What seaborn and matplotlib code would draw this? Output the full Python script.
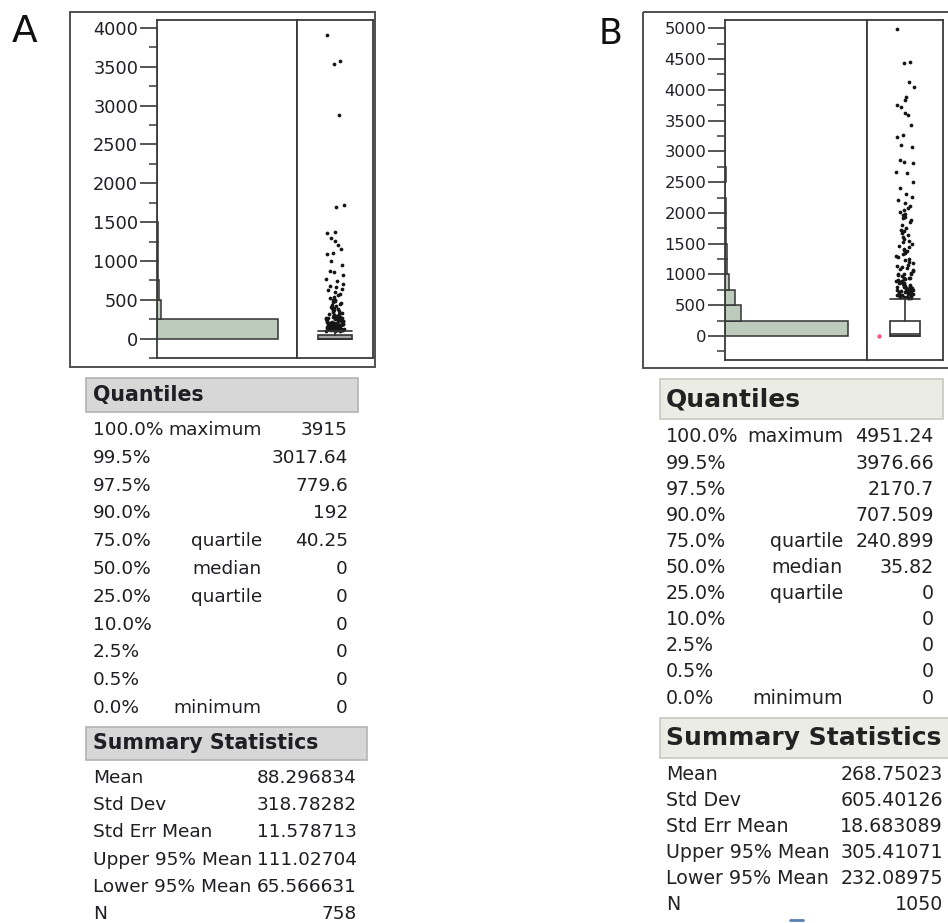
import numpy as np
import matplotlib
matplotlib.use("Agg")
import matplotlib.pyplot as plt
import matplotlib.patches as mpatches
import seaborn as sns

# ---- data ----

# histogram bins (width 250) and counts
a_edges = [0, 250, 500, 750, 1000, 1250, 1500, 1750, 2000, 2250, 2500, 2750, 3000, 3250, 3500, 3750, 4000]
a_counts = [702, 25, 12, 5, 5, 3, 2, 0, 0, 0, 0, 1, 0, 0, 2, 1]

b_edges = [0, 250, 500, 750, 1000, 1250, 1500, 1750, 2000, 2250, 2500, 2750, 3000,
           3250, 3500, 3750, 4000, 4250, 4500, 4750, 5000]
b_counts = [788, 103, 64, 26, 12, 10, 4, 8, 9, 3, 4, 3, 3, 2, 3, 3, 2, 2, 0, 1]

# points shown in the jittered strip (above the whisker)
a_points = [3915, 3580, 3530, 2880, 1716, 1690, 1376, 1363, 1300, 1257, 1206, 1150, 1108,
            1087, 1003, 950, 875, 854, 820, 768, 740, 704, 680, 662, 640, 620, 600, 577,
            560, 540, 520, 500, 492, 480, 470, 455, 440, 430, 420, 410, 400, 390, 380,
            372, 365, 350, 340, 330, 320, 312, 305, 298, 290, 282, 275, 268, 260, 255,
            248, 240, 232, 225, 218, 210, 205, 198, 192, 185, 180, 175, 170, 165, 160,
            155, 150, 145, 140, 136, 132, 128, 124, 120, 116, 112, 108, 104,
            300, 280, 260, 250, 240, 230, 220, 210, 200, 190, 180, 170, 160, 150, 140,
            130, 125, 120, 115, 110, 105, 102, 250, 200, 175, 150, 135, 118, 110, 106,
            190, 170, 155, 145, 138, 128, 122, 114, 108, 103, 160, 142, 126, 112]

b_points = [4984, 4459, 4432, 4133, 4041, 3890, 3836, 3754, 3727, 3620, 3592, 3429, 3267,
            3240, 3104, 3077, 2860, 2834, 2807, 2670, 2643, 2500, 2400, 2300, 2264, 2210,
            2156, 2120, 2075, 2040, 2021, 1990, 1967, 1940, 1912, 1886, 1860,
            1800, 1760, 1720, 1700, 1670, 1640, 1610, 1580, 1550, 1520, 1500, 1470, 1450,
            1420, 1400, 1380, 1350, 1330, 1300,
            1280, 1250, 1230, 1200, 1180, 1160, 1140, 1120, 1100, 1090, 1070, 1050, 1030,
            1010, 1000, 990, 970, 950, 940, 930, 910, 900, 890, 875, 860, 850, 840, 830,
            820, 810, 800, 790, 780, 770, 760, 750, 745, 740, 730, 720, 710, 700, 690,
            680, 670, 660, 650, 640, 630, 620, 615,
            950, 900, 860, 820, 790, 760, 730, 700, 680, 660, 640, 625, 1000, 880, 780, 720]
b_marked = [0]

# quantile table
q_pct = ["100.0%", "99.5%", "97.5%", "90.0%", "75.0%", "50.0%", "25.0%", "10.0%", "2.5%", "0.5%", "0.0%"]
q_name = ["maximum", "", "", "", "quartile", "median", "quartile", "", "", "", "minimum"]
a_quant = ["3915", "3017.64", "779.6", "192", "40.25", "0", "0", "0", "0", "0", "0"]
b_quant = ["4951.24", "3976.66", "2170.7", "707.509", "240.899", "35.82", "0", "0", "0", "0", "0"]
a_q = {"q1": 0, "med": 0, "q3": 40.25}
b_q = {"q1": 0, "med": 35.82, "q3": 240.899}

# summary statistics
s_name = ["Mean", "Std Dev", "Std Err Mean", "Upper 95% Mean", "Lower 95% Mean", "N"]
a_summ = ["88.296834", "318.78282", "11.578713", "111.02704", "65.566631", "758"]
b_summ = ["268.75023", "605.40126", "18.683089", "305.41071", "232.08975", "1050"]

# ---- figure ----
sns.set_style("white")
plt.rcParams["font.family"] = ["DejaVu Sans"]

W, H = 948, 923
fig = plt.figure(figsize=(W / 100, H / 100), dpi=100)


def box(x0, y0, x1, y1):
    return [x0 / W, 1 - y1 / H, (x1 - x0) / W, (y1 - y0) / H]


bg = fig.add_axes([0, 0, 1, 1], zorder=-5)
bg.set_xlim(0, W)
bg.set_ylim(H, 0)
bg.axis("off")

edge = "#3a3a3a"
bar_col = "#bccbbb"


def panel(hist_box, strip_box, edges, counts, points, q, ylim, ymax_tick, hist_xmax, lab_size,
          box_w, box_face):
    axh = fig.add_axes(box(*hist_box))
    axs = fig.add_axes(box(*strip_box), sharey=axh)

    mids = [(edges[i] + edges[i + 1]) / 2 for i in range(len(counts))]
    sns.histplot(y=mids, weights=counts, bins=edges, color=bar_col, edgecolor="#333333",
                 linewidth=1.1, alpha=1, ax=axh)
    axh.set_xlim(0, hist_xmax)
    axh.set_ylim(*ylim)
    axh.set_yticks(np.arange(0, ymax_tick + 1, 500))
    axh.set_yticks(np.arange(-250, ymax_tick + 1, 250), minor=True)
    axh.tick_params(axis="y", which="major", length=12, width=1.2, color=edge, pad=1.5,
                    labelsize=lab_size, labelcolor="#202028", left=True, direction="out")
    axh.tick_params(axis="y", which="minor", length=6, width=1.1, color=edge, left=True)
    axh.set_xticks([])
    axh.set_xlabel("")
    axh.set_ylabel("")

    np.random.seed(7)
    sns.stripplot(y=points, ax=axs, color="#151515", size=2.7, jitter=0.12, zorder=2)
    whi = q["q3"] + 1.5 * (q["q3"] - q["q1"])
    stats = [{"q1": q["q1"], "med": q["med"], "q3": q["q3"], "whislo": q["q1"], "whishi": whi, "fliers": []}]
    axs.bxp(stats, positions=[0], widths=box_w, capwidths=box_w, patch_artist=True, showfliers=False,
            boxprops=dict(facecolor=box_face, edgecolor="#333333", linewidth=1.2),
            medianprops=dict(color="#333333", linewidth=1.2),
            whiskerprops=dict(color="#333333", linewidth=1.2),
            capprops=dict(color="#333333", linewidth=1.2), zorder=3)
    axs.set_xlim(-0.5, 0.5)
    axs.set_xticks([])
    axs.tick_params(axis="y", which="both", left=False, labelleft=False)
    axs.set_ylabel("")

    for a in (axh, axs):
        for s in a.spines.values():
            s.set_visible(True)
            s.set_color(edge)
            s.set_linewidth(1.3)
    return axh, axs


# panel A
panel((157, 20, 297, 358), (297, 20, 373, 358), a_edges, a_counts, a_points, a_q,
      (-204, 4102), 4000, 812, 12.8, 0.46, "#a9a9a9")
bg.add_patch(mpatches.Rectangle((70, 12), 305, 355, fill=False, edgecolor="#505050", lw=1.4))
bg.text(25, 32, "A", fontsize=27, ha="center", va="center", color="#111111")

# panel B
axhB, axsB = panel((725, 20, 867, 360), (867, 20, 943, 360), b_edges, b_counts, b_points, b_q,
                   (-390, 5135), 5000, 910, 11.8, 0.4, "white")
axsB.scatter([-0.34] * len(b_marked), b_marked, s=10, color="#f05a78", zorder=4, linewidths=0)
bg.add_patch(mpatches.Rectangle((643, 12), 320, 356, fill=False, edgecolor="#505050", lw=1.4))
bg.text(611, 34, "B", fontsize=25, ha="center", va="center", color="#111111")

# ---- tables ----
txt_a = "#1e1e24"
txt_b = "#222222"

# A quantiles
bg.add_patch(mpatches.Rectangle((86, 378), 272, 34, facecolor="#d7d7d7", edgecolor="#b4b4b4", lw=1.2))
bg.text(93, 395, "Quantiles", fontsize=14.8, fontweight="bold", va="center", color=txt_a)
for i in range(len(q_pct)):
    y = 430 + i * 27.8
    bg.text(93, y, q_pct[i], fontsize=13.3, va="center", color=txt_a)
    bg.text(262, y, q_name[i], fontsize=13.3, va="center", ha="right", color=txt_a)
    bg.text(348, y, a_quant[i], fontsize=13.3, va="center", ha="right", color=txt_a)

bg.add_patch(mpatches.Rectangle((86, 727), 281, 33, facecolor="#d7d7d7", edgecolor="#b4b4b4", lw=1.2))
bg.text(93, 743, "Summary Statistics", fontsize=14.8, fontweight="bold", va="center", color=txt_a)
for i in range(len(s_name)):
    y = 778 + i * 27.2
    bg.text(93, y, s_name[i], fontsize=13.3, va="center", color=txt_a)
    bg.text(357, y, a_summ[i], fontsize=13.3, va="center", ha="right", color=txt_a)

# B quantiles
bg.add_patch(mpatches.Rectangle((660, 379), 283, 40, facecolor="#ececE6", edgecolor="#c8c8c0", lw=1.2))
bg.text(666, 399, "Quantiles", fontsize=18, fontweight="bold", va="center", color=txt_b)
for i in range(len(q_pct)):
    y = 437 + i * 26.1
    bg.text(666, y, q_pct[i], fontsize=13.7, va="center", color=txt_b)
    bg.text(843, y, q_name[i], fontsize=13.7, va="center", ha="right", color=txt_b)
    bg.text(934, y, b_quant[i], fontsize=13.7, va="center", ha="right", color=txt_b)

bg.add_patch(mpatches.Rectangle((660, 718), 300, 40, facecolor="#ececE6", edgecolor="#c8c8c0", lw=1.2))
bg.text(666, 738, "Summary Statistics", fontsize=18, fontweight="bold", va="center", color=txt_b)
for i in range(len(s_name)):
    y = 775 + i * 26
    bg.text(666, y, s_name[i], fontsize=13.7, va="center", color=txt_b)
    bg.text(943, y, b_summ[i], fontsize=13.7, va="center", ha="right", color=txt_b)
bg.plot([790, 803], [920, 920], color="#5b7fb0", lw=2)

fig.savefig("out.png", dpi=100)
